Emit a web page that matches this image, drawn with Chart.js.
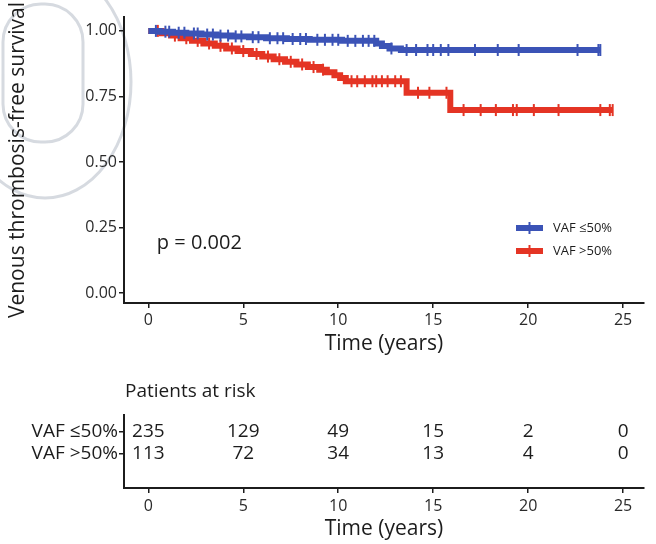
<!DOCTYPE html>
<html>
<head>
<meta charset="utf-8">
<script src="https://cdn.jsdelivr.net/npm/chart.js@4.4.0/dist/chart.umd.min.js"></script>
<style>
  html, body { margin: 0; padding: 0; background: #fff; }
  #wrap { position: relative; width: 656px; height: 544px; }
  canvas { position: absolute; left: 0; }
  #km { top: 0; }
  #risk { top: 360px; }
</style>
</head>
<body>
<div id="wrap">
  <canvas id="km" width="656" height="360"></canvas>
  <canvas id="risk" width="656" height="184"></canvas>
</div>
<script>
const groupNames = ['VAF ≤50%', 'VAF >50%'];
const groupColors = ['#3b53b6', '#e43424'];

// Kaplan-Meier steps: event time (years) and survival just after it
const lowEventTimes = [0, 0.6, 1.3, 2.0, 2.8, 3.6, 4.4, 5.3, 6.2, 7.3, 8.5, 10.2, 12.0, 12.3, 12.7, 13.3];
const lowSurvival   = [1, 0.997, 0.993, 0.990, 0.986, 0.982, 0.979, 0.976, 0.972, 0.969, 0.966, 0.962, 0.952, 0.942, 0.933, 0.927];
const lowCensorTimes = [0.4, 0.9, 1.1, 1.6, 1.9, 2.4, 2.6, 3.1, 3.4, 3.8, 4.2, 4.6, 4.9, 5.5, 5.8, 6.4, 6.8, 7.1,
  7.6, 8.0, 8.3, 8.9, 9.3, 9.7, 10.0, 10.5, 10.9, 11.3, 11.6, 11.9, 12.8, 13.6, 14.1, 14.7, 15.0, 15.4, 15.8,
  17.2, 18.4, 19.5, 22.6, 23.7, 23.8];

const highEventTimes = [0, 0.7, 1.2, 1.7, 2.3, 2.9, 3.5, 4.1, 4.7, 5.4, 6.0, 6.6, 7.2, 7.8, 8.4, 9.0, 9.4, 9.8, 10.1, 10.4, 13.6, 15.9];
const highSurvival   = [1, 0.991, 0.982, 0.972, 0.962, 0.952, 0.943, 0.933, 0.923, 0.912, 0.902, 0.892, 0.882, 0.872, 0.862, 0.852, 0.842, 0.831, 0.820, 0.808, 0.764, 0.698];
const highCensorTimes = [0.5, 1.4, 2.0, 2.6, 3.2, 3.8, 4.4, 5.0, 5.7, 6.3, 6.9, 7.5, 8.1, 8.7, 9.2, 10.7, 11.0,
  11.4, 11.8, 12.0, 12.3, 12.6, 13.0, 13.3, 14.2, 14.8, 15.7, 16.6, 17.5, 18.3, 19.2, 19.4, 20.3, 21.6, 23.8, 24.3, 24.45];

const xTicks = [0, 5, 10, 15, 20, 25];
const yTicks = [0, 0.25, 0.5, 0.75, 1];
const yTickLabels = ['0.00', '0.25', '0.50', '0.75', '1.00'];

// numbers at risk under the plot
const riskTimes = [0, 5, 10, 15, 20, 25];
const riskLow  = [235, 129, 49, 15, 2, 0];
const riskHigh = [113, 72, 34, 13, 4, 0];

const pValueText = 'p = 0.002';
const FONT = '"Open Sans", "Noto Sans", sans-serif';
const INK = '#1c1c1c';

function survivalAt(times, surv, t) {
  let s = surv[0];
  for (let i = 0; i < times.length; i++) if (times[i] <= t) s = surv[i];
  return s;
}
function stepPoints(times, surv, censor) {
  const pts = times.map((t, i) => ({ x: t, y: surv[i] }));
  const end = Math.max(...censor);
  pts.push({ x: end, y: survivalAt(times, surv, end) });
  return pts;
}
function censorPoints(times, surv, censor) {
  return censor.map(t => ({ x: t, y: survivalAt(times, surv, t) }));
}

const curveSet = (i, times, surv) => ({
  type: 'line', label: groupNames[i], data: stepPoints(times, surv, i ? highCensorTimes : lowCensorTimes),
  borderColor: groupColors[i], borderWidth: 6, stepped: 'before', pointRadius: 0, fill: false
});
const censorSet = (i, times, surv, censor) => ({
  type: 'scatter', data: censorPoints(times, surv, censor), showLine: false,
  pointStyle: 'line', rotation: 90, pointRadius: 6, borderWidth: 2,
  borderColor: groupColors[i], backgroundColor: groupColors[i]
});

// faint outline emblem behind the axis title
const emblem = {
  id: 'emblem',
  beforeDraw(chart) {
    const c = chart.ctx;
    c.save();
    c.strokeStyle = 'rgba(200,205,214,0.75)';
    c.lineWidth = 3;
    c.beginPath();
    c.ellipse(45, 82, 86, 116, 0, 0, Math.PI * 2);
    c.stroke();
    c.beginPath();
    c.roundRect(3, 4, 80, 138, 38);
    c.stroke();
    c.restore();
  }
};

// legend box and p-value inside the plot area
const kmNotes = {
  id: 'kmNotes',
  afterDatasetsDraw(chart) {
    const c = chart.ctx, a = chart.chartArea, xs = chart.scales.x, ys = chart.scales.y;
    c.save();
    c.fillStyle = INK;
    c.font = '20px ' + FONT;
    c.textBaseline = 'middle';
    c.fillText(pValueText, xs.getPixelForValue(0.45), ys.getPixelForValue(0.19));
    c.font = '13px ' + FONT;
    groupNames.forEach((name, i) => {
      const y = a.bottom - 75 + i * 23;
      const x0 = a.right - 128;
      c.strokeStyle = groupColors[i];
      c.lineWidth = 6;
      c.beginPath(); c.moveTo(x0, y); c.lineTo(x0 + 27, y); c.stroke();
      c.lineWidth = 2;
      c.beginPath(); c.moveTo(x0 + 13.5, y - 6); c.lineTo(x0 + 13.5, y + 6); c.stroke();
      c.fillStyle = INK;
      c.fillText(name, x0 + 37, y);
    });
    c.restore();
  }
};

new Chart(document.getElementById('km'), {
  data: {
    datasets: [
      curveSet(0, lowEventTimes, lowSurvival),
      censorSet(0, lowEventTimes, lowSurvival, lowCensorTimes),
      curveSet(1, highEventTimes, highSurvival),
      censorSet(1, highEventTimes, highSurvival, highCensorTimes)
    ]
  },
  options: {
    responsive: false,
    animation: false,
    layout: { padding: { top: 17, right: 12, left: 0, bottom: 0 } },
    plugins: { legend: { display: false }, tooltip: { enabled: false } },
    scales: {
      x: {
        type: 'linear', min: -1.28, max: 26.1,
        afterBuildTicks: s => { s.ticks = xTicks.map(v => ({ value: v })); },
        afterFit: s => { s.height = 57; },
        grid: { drawOnChartArea: false, tickLength: 5, color: INK, lineWidth: 1.5 },
        border: { color: INK, width: 2 },
        ticks: { font: { family: FONT, size: 16 }, color: '#2a2a2a', padding: 3, maxRotation: 0 },
        title: { display: true, text: 'Time (years)', font: { family: FONT, size: 21 }, color: INK, padding: { top: 0, bottom: 3 } }
      },
      y: {
        type: 'linear', min: -0.038, max: 1.053,
        afterBuildTicks: s => { s.ticks = yTicks.map(v => ({ value: v })); },
        afterFit: s => { s.width = 124; },
        grid: { drawOnChartArea: false, tickLength: 5, color: INK, lineWidth: 1.5 },
        border: { color: INK, width: 2 },
        ticks: {
          font: { family: FONT, size: 16 }, color: '#2a2a2a', padding: 2,
          callback: v => yTickLabels[yTicks.indexOf(v)]
        },
        title: { display: true, text: 'Venous thrombosis-free survival', font: { family: FONT, size: 21 }, color: INK, padding: { top: 5, bottom: 0 } }
      }
    }
  },
  plugins: [emblem, kmNotes]
});

// risk table: numbers printed at each x tick for each group row
const riskRows = [riskLow, riskHigh];
const riskNumbers = {
  id: 'riskNumbers',
  afterDraw(chart) {
    const c = chart.ctx, xs = chart.scales.x, ys = chart.scales.y;
    c.save();
    c.fillStyle = INK;
    c.font = '19px ' + FONT;
    c.textAlign = 'center';
    c.textBaseline = 'middle';
    riskRows.forEach((row, r) => {
      row.forEach((n, i) => c.fillText(String(n), xs.getPixelForValue(riskTimes[i]), ys.getPixelForValue(r)));
    });
    c.textAlign = 'left';
    c.fillText('Patients at risk', chart.chartArea.left + 1, 32);
    c.restore();
  }
};

new Chart(document.getElementById('risk'), {
  type: 'scatter',
  data: { datasets: [{ data: [], pointRadius: 0 }] },
  options: {
    responsive: false,
    animation: false,
    layout: { padding: { top: 55, right: 12, left: 0, bottom: 0 } },
    plugins: { legend: { display: false }, tooltip: { enabled: false } },
    scales: {
      x: {
        type: 'linear', min: -1.28, max: 26.1,
        afterBuildTicks: s => { s.ticks = xTicks.map(v => ({ value: v })); },
        afterFit: s => { s.height = 56; },
        grid: { drawOnChartArea: false, tickLength: 5, color: INK, lineWidth: 1.5 },
        border: { color: INK, width: 2 },
        ticks: { font: { family: FONT, size: 16 }, color: '#2a2a2a', padding: 4, maxRotation: 0 },
        title: { display: true, text: 'Time (years)', font: { family: FONT, size: 21 }, color: INK, padding: { top: 0, bottom: 2 } }
      },
      y: {
        type: 'linear', reverse: true, min: -0.77, max: 2.55,
        afterBuildTicks: s => { s.ticks = [0, 1].map(v => ({ value: v })); },
        afterFit: s => { s.width = 124; },
        grid: { drawOnChartArea: false, tickLength: 5, color: INK, lineWidth: 1.5 },
        border: { color: INK, width: 2 },
        ticks: { font: { family: FONT, size: 19 }, color: INK, padding: 1, callback: v => groupNames[v] }
      }
    }
  },
  plugins: [riskNumbers]
});
</script>
</body>
</html>
